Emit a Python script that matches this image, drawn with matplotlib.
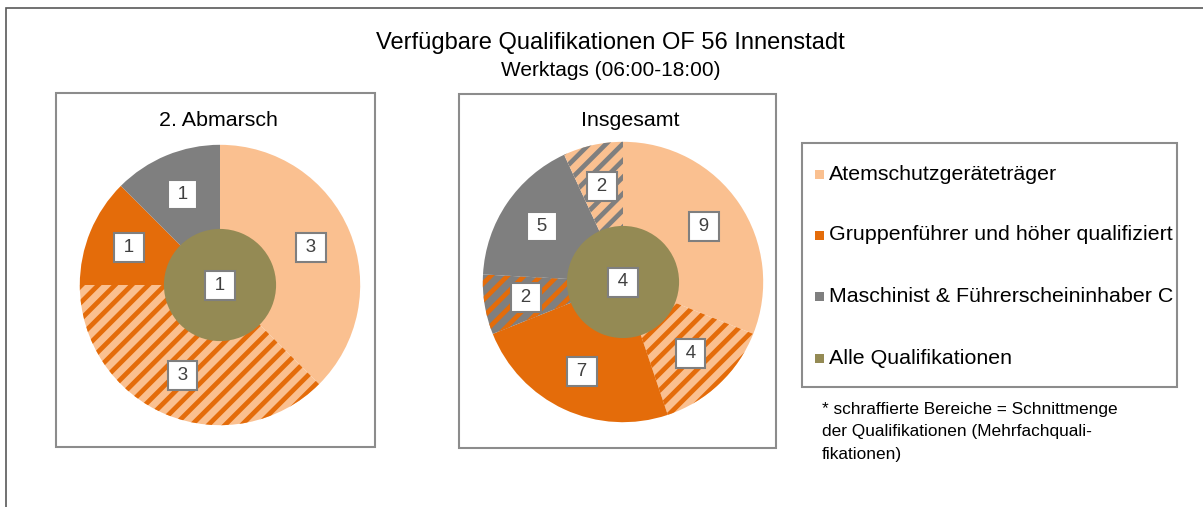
import matplotlib
matplotlib.use("Agg")
import matplotlib.pyplot as plt
from matplotlib.patches import Rectangle
import numpy as np

# ---------------- data ----------------
title = "Verfügbare Qualifikationen OF 56 Innenstadt"
subtitle = "Werktags (06:00-18:00)"

legend_labels = ["Atemschutzgeräteträger",
                 "Gruppenführer und höher qualifiziert",
                 "Maschinist & Führerscheininhaber C",
                 "Alle Qualifikationen"]

panel1_title = "2. Abmarsch"
panel1_segments = ["Atemschutz", "Atemschutz + Gruppenführer", "Gruppenführer", "Maschinist"]
panel1_values = [3, 3, 1, 1]
panel1_center = 1

panel2_title = "Insgesamt"
panel2_segments = ["Atemschutz", "Atemschutz + Gruppenführer", "Gruppenführer",
                   "Gruppenführer + Maschinist", "Maschinist", "Maschinist + Atemschutz"]
panel2_values = [9, 4, 7, 2, 5, 2]
panel2_center = 4

footnote = ("* schraffierte Bereiche = Schnittmenge\n"
            "der Qualifikationen (Mehrfachquali-\n"
            "fikationen)")

# ---------------- style ----------------
C_ATEM = "#FAC090"
C_GRUP = "#E46C0A"
C_MASCH = "#7F7F7F"
C_ALLE = "#948A54"
legend_colors = [C_ATEM, C_GRUP, C_MASCH, C_ALLE]

# face colour, hatch colour (None = no hatch)
style = {
    "Atemschutz": (C_ATEM, None),
    "Gruppenführer": (C_GRUP, None),
    "Maschinist": (C_MASCH, None),
    "Atemschutz + Gruppenführer": (C_ATEM, C_GRUP),
    "Gruppenführer + Maschinist": (C_MASCH, C_GRUP),
    "Maschinist + Atemschutz": (C_ATEM, C_MASCH),
}

plt.rcParams["font.family"] = ["Liberation Sans", "DejaVu Sans"]
plt.rcParams["hatch.linewidth"] = 3.4

W, H = 1203, 507
fig = plt.figure(figsize=(W / 100, H / 100), dpi=100)


def fx(x):
    return x / W


def fy(y):
    return 1 - y / H


# outer frame (runs off the right/bottom edge)
fig.patches.append(Rectangle((fx(5.5), fy(520)), fx(1300), fy(7.5) - fy(520),
                             transform=fig.transFigure, fill=False,
                             edgecolor="#595959", linewidth=1.2))

fig.text(fx(610), fy(43), title, ha="center", va="center", fontsize=17, color="#000000")
fig.text(fx(611), fy(71), subtitle, ha="center", va="center", fontsize=15, color="#000000")


def panel(box, cx, cy, r, ptitle, tx, segs, vals, center_val):
    x0, y0, x1, y1 = box
    fig.patches.append(Rectangle((fx(x0), fy(y1)), fx(x1 - x0), fy(y0) - fy(y1),
                                 transform=fig.transFigure, fill=False,
                                 edgecolor="#8C8C8C", linewidth=1.5))
    fig.text(fx(tx), fy(121), ptitle, ha="center", va="center", fontsize=15.4)
    ax = fig.add_axes([fx(cx - r), fy(cy + r), fx(2 * r), fy(cy - r) - fy(cy + r)])
    wedges, _ = ax.pie(vals, startangle=90, counterclock=False, radius=1,
                       colors=[style[s][0] for s in segs],
                       wedgeprops=dict(linewidth=0))
    for w, s in zip(wedges, segs):
        fc, hc = style[s]
        if hc is not None:
            w.set_hatch("//")
            w.set_edgecolor(hc)
            w.set_linewidth(0)
    ax.pie([center_val], radius=0.4, colors=[C_ALLE], wedgeprops=dict(linewidth=0))
    ax.set_xlim(-1.02, 1.02)
    ax.set_ylim(-1.02, 1.02)
    ax.set_aspect("equal")
    ax.axis("off")
    bbox = dict(boxstyle="square,pad=0.32", fc="white", ec="#7F7F7F", lw=1.5)
    sp = "\u2009"
    for w, v in zip(wedges, vals):
        ang = np.deg2rad((w.theta1 + w.theta2) / 2)
        ax.text(0.7 * np.cos(ang), 0.7 * np.sin(ang), f"{sp}{v}{sp}", ha="center",
                va="center", fontsize=13.5, color="#404040", bbox=bbox)
    ax.text(0, 0, f"{sp}{center_val}{sp}", ha="center", va="center", fontsize=13.5,
            color="#404040", bbox=bbox)


panel((56, 93, 375, 447), 220, 285, 143, panel1_title, 218,
      panel1_segments, panel1_values, panel1_center)
panel((459, 94, 776, 448), 623, 282, 143, panel2_title, 630,
      panel2_segments, panel2_values, panel2_center)

# legend
lx0, ly0, lx1, ly1 = 802, 143, 1177, 387
fig.patches.append(Rectangle((fx(lx0), fy(ly1)), fx(lx1 - lx0), fy(ly0) - fy(ly1),
                             transform=fig.transFigure, fill=False,
                             edgecolor="#8C8C8C", linewidth=1.5))
row_y = [174, 235, 296, 358]
for lab, col, yy in zip(legend_labels, legend_colors, row_y):
    fig.patches.append(Rectangle((fx(815), fy(yy + 4.5)), fx(9), fy(yy - 4.5) - fy(yy + 4.5),
                                 transform=fig.transFigure, facecolor=col, edgecolor="none"))
    fig.text(fx(829), fy(yy), lab, ha="left", va="center", fontsize=15.4)

fig.text(fx(822), fy(402), footnote, ha="left", va="top", fontsize=12.4,
         linespacing=1.62)

fig.savefig("out.png", dpi=100)
